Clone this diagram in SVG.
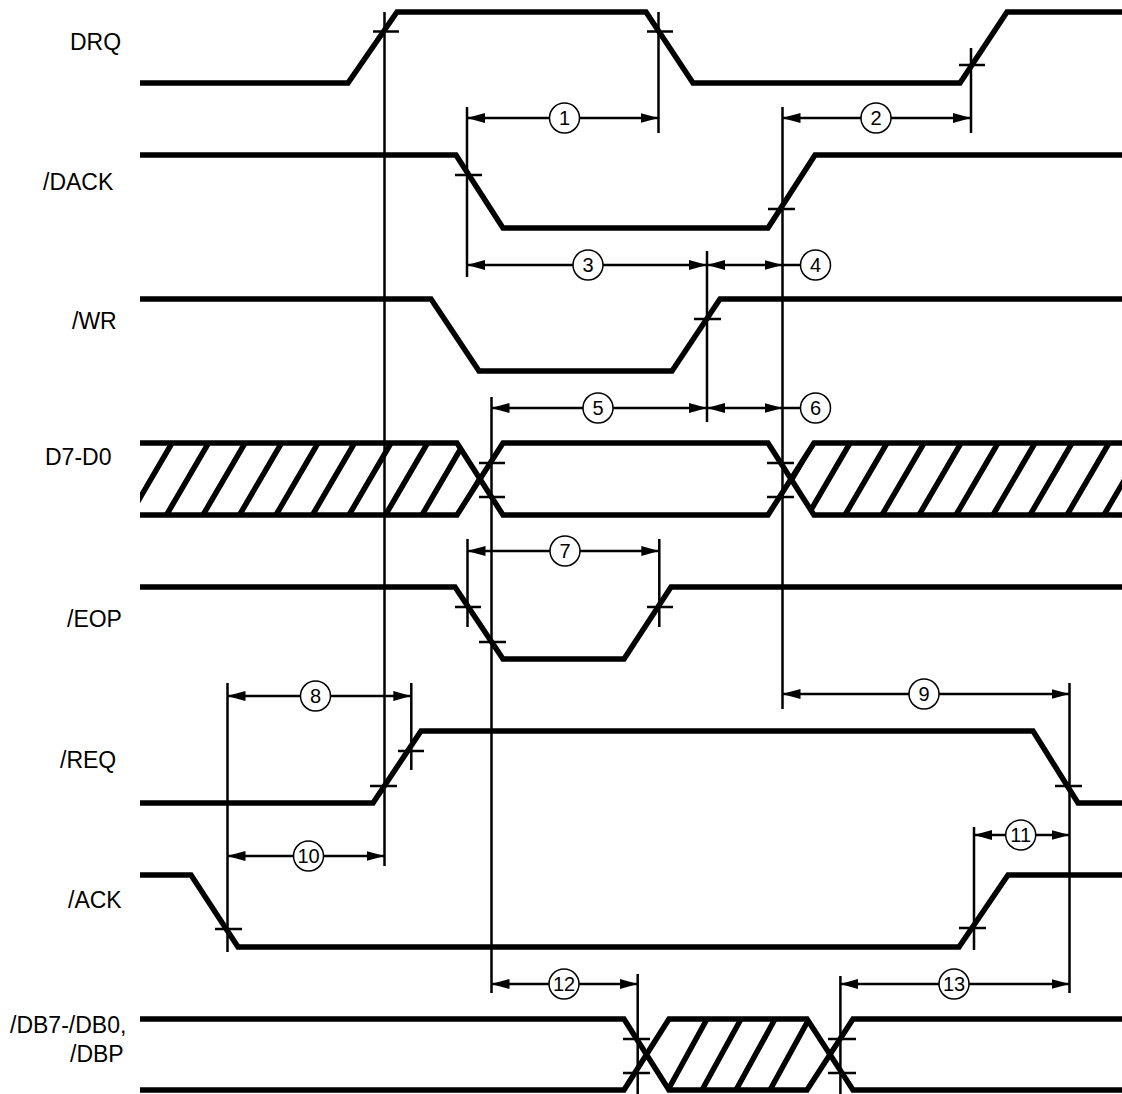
<svg xmlns="http://www.w3.org/2000/svg" width="1122" height="1094" viewBox="0 0 1122 1094">
<style>
.sig{fill:none;stroke:#000;stroke-width:5.5;stroke-linejoin:miter;stroke-miterlimit:10}
.hatch{fill:none;stroke:#000;stroke-width:5.5}
.thin{fill:none;stroke:#000;stroke-width:2.5}
.dim{fill:none;stroke:#000;stroke-width:2.5;marker-start:url(#ah);marker-end:url(#ah)}
.num{fill:#fff;stroke:#000;stroke-width:1.5}
.lbl{font-family:"Liberation Sans",Arial,sans-serif;font-size:23px;fill:#000}
.nt{font-family:"Liberation Sans",Arial,sans-serif;font-size:20px;fill:#000;text-anchor:middle}
</style>
<defs>
<marker id="ah" viewBox="0 0 18 10" refX="18" refY="5" markerWidth="18" markerHeight="10" markerUnits="userSpaceOnUse" orient="auto-start-reverse">
<path d="M0,0 L18,5 L0,10 z" fill="#000"/>
</marker>
<clipPath id="cD1"><polygon points="140,443 457,443 480,479 457,515 140,515"/></clipPath>
<clipPath id="cD2"><polygon points="814,443 1122,443 1122,515 814,515 791,479"/></clipPath>
<clipPath id="cDB"><polygon points="669,1019 807,1019 830,1054.5 807,1090 669,1090 646,1054.5"/></clipPath>
</defs>
<rect width="1122" height="1094" fill="#fff"/>

<g id="drq">
<text class="lbl" x="70" y="50">DRQ</text>
<path class="sig" d="M140,83 H348 L397,12 H646 L693,83 H960 L1007,12 H1122"/>
</g>
<g id="dack">
<text class="lbl" x="43" y="190">/DACK</text>
<path class="sig" d="M140,155 H456 L503,228 H768 L815,155 H1122"/>
</g>
<g id="wr">
<text class="lbl" x="72" y="329">/WR</text>
<path class="sig" d="M140,299 H431 L479,371 H672 L720,299 H1122"/>
</g>
<g id="d7d0">
<text class="lbl" x="45" y="465">D7-D0</text>
<g clip-path="url(#cD1)">
<path class="hatch" d="M130,515 l42,-72 M166.5,515 l42,-72 M203,515 l42,-72 M239.5,515 l42,-72 M276,515 l42,-72 M312.5,515 l42,-72 M349,515 l42,-72 M385.5,515 l42,-72 M422,515 l42,-72 M458.5,515 l42,-72"/>
</g>
<g clip-path="url(#cD2)">
<path class="hatch" d="M771,515 l42,-72 M808,515 l42,-72 M845,515 l42,-72 M882,515 l42,-72 M919,515 l42,-72 M956,515 l42,-72 M993,515 l42,-72 M1030,515 l42,-72 M1067,515 l42,-72 M1104,515 l42,-72"/>
</g>
<path class="sig" d="M140,443 H457 L503,515 H768 L814,443 H1122"/>
<path class="sig" d="M140,515 H457 L503,443 H768 L814,515 H1122"/>
</g>
<g id="eop">
<text class="lbl" x="67" y="627">/EOP</text>
<path class="sig" d="M140,587 H455 L503,659 H624 L671,587 H1122"/>
</g>
<g id="req">
<text class="lbl" x="60" y="768">/REQ</text>
<path class="sig" d="M140,803 H373 L421,731 H1033 L1078,803 H1122"/>
</g>
<g id="ack">
<text class="lbl" x="68" y="908">/ACK</text>
<path class="sig" d="M140,875 H191 L238,947 H959 L1008,875 H1122"/>
</g>
<g id="db">
<text class="lbl" x="10" y="1033">/DB7-/DB0,</text>
<text class="lbl" x="70" y="1062">/DBP</text>
<g clip-path="url(#cDB)">
<path class="hatch" d="M668,1090 l39,-71 M702,1090 l39,-71 M736,1090 l39,-71 M770,1090 l39,-71"/>
</g>
<path class="sig" d="M140,1019 H624 L669,1090 H807 L853,1019 H1122"/>
<path class="sig" d="M140,1090 H624 L669,1019 H807 L853,1090 H1122"/>
</g>

<g id="connectors">
<path class="thin" d="M384.5,12 V866 M658.5,12 V133 M971,48 V133 M467,107 V277 M782.5,107 V709 M707,251 V422 M491.5,397 V993 M467.5,539 V627 M659.3,539 V627 M227.5,683 V952 M411.3,683 V770 M1069.5,683 V993 M974,827 V950 M637.7,974 V1094 M840.4,976 V1094"/>
<path class="thin" d="M373,31.5 H399 M647,31.5 H673 M959,65 H985 M455,175 H482 M768,209 H795 M694,319 H721 M479,463 H505 M479,497 H505 M767,463 H794 M767,497 H794 M455,607 H481 M479,642 H506 M647,607 H673 M370,786 H397 M398,751 H424 M1055,786 H1082 M215,929 H242 M959,928 H986 M623,1039 H650 M623,1073 H650 M828,1039 H856 M828,1073 H856"/>
<g id="dim1"><path class="dim" d="M467,118 H658.5"/><circle class="num" cx="564.5" cy="118" r="15"/><text class="nt" x="564.5" y="125">1</text></g>
<g id="dim2"><path class="dim" d="M782.5,118 H971"/><circle class="num" cx="876" cy="118" r="15"/><text class="nt" x="876" y="125">2</text></g>
<g id="dim3"><path class="dim" d="M467,265 H707"/><circle class="num" cx="588" cy="265" r="15"/><text class="nt" x="588" y="272">3</text></g>
<g id="dim4"><path class="dim" d="M707,265 H782.5"/><path class="thin" d="M782.5,265 H801"/><circle class="num" cx="815.5" cy="265" r="15"/><text class="nt" x="815.5" y="272">4</text></g>
<g id="dim5"><path class="dim" d="M491.5,408 H707"/><circle class="num" cx="598" cy="408" r="15"/><text class="nt" x="598" y="415">5</text></g>
<g id="dim6"><path class="dim" d="M707,408 H782.5"/><path class="thin" d="M782.5,408 H801"/><circle class="num" cx="815.5" cy="408" r="15"/><text class="nt" x="815.5" y="415">6</text></g>
<g id="dim7"><path class="dim" d="M467.5,551 H659.3"/><circle class="num" cx="565" cy="551" r="15"/><text class="nt" x="565" y="558">7</text></g>
<g id="dim8"><path class="dim" d="M227.5,696 H411.3"/><circle class="num" cx="315.5" cy="696" r="15"/><text class="nt" x="315.5" y="703">8</text></g>
<g id="dim9"><path class="dim" d="M782.5,694 H1069.5"/><circle class="num" cx="924" cy="694" r="15"/><text class="nt" x="924" y="701">9</text></g>
<g id="dim10"><path class="dim" d="M227.5,856 H384.5"/><circle class="num" cx="308.5" cy="856" r="15"/><text class="nt" x="308.5" y="863">10</text></g>
<g id="dim11"><path class="dim" d="M974,835 H1069.5"/><circle class="num" cx="1020.7" cy="835" r="15"/><text class="nt" x="1020.7" y="842">11</text></g>
<g id="dim12"><path class="dim" d="M491.5,984 H637.7"/><circle class="num" cx="564" cy="984" r="15"/><text class="nt" x="564" y="991">12</text></g>
<g id="dim13"><path class="dim" d="M840.4,984 H1069.5"/><circle class="num" cx="954" cy="984" r="15"/><text class="nt" x="954" y="991">13</text></g>
</g>
</svg>
